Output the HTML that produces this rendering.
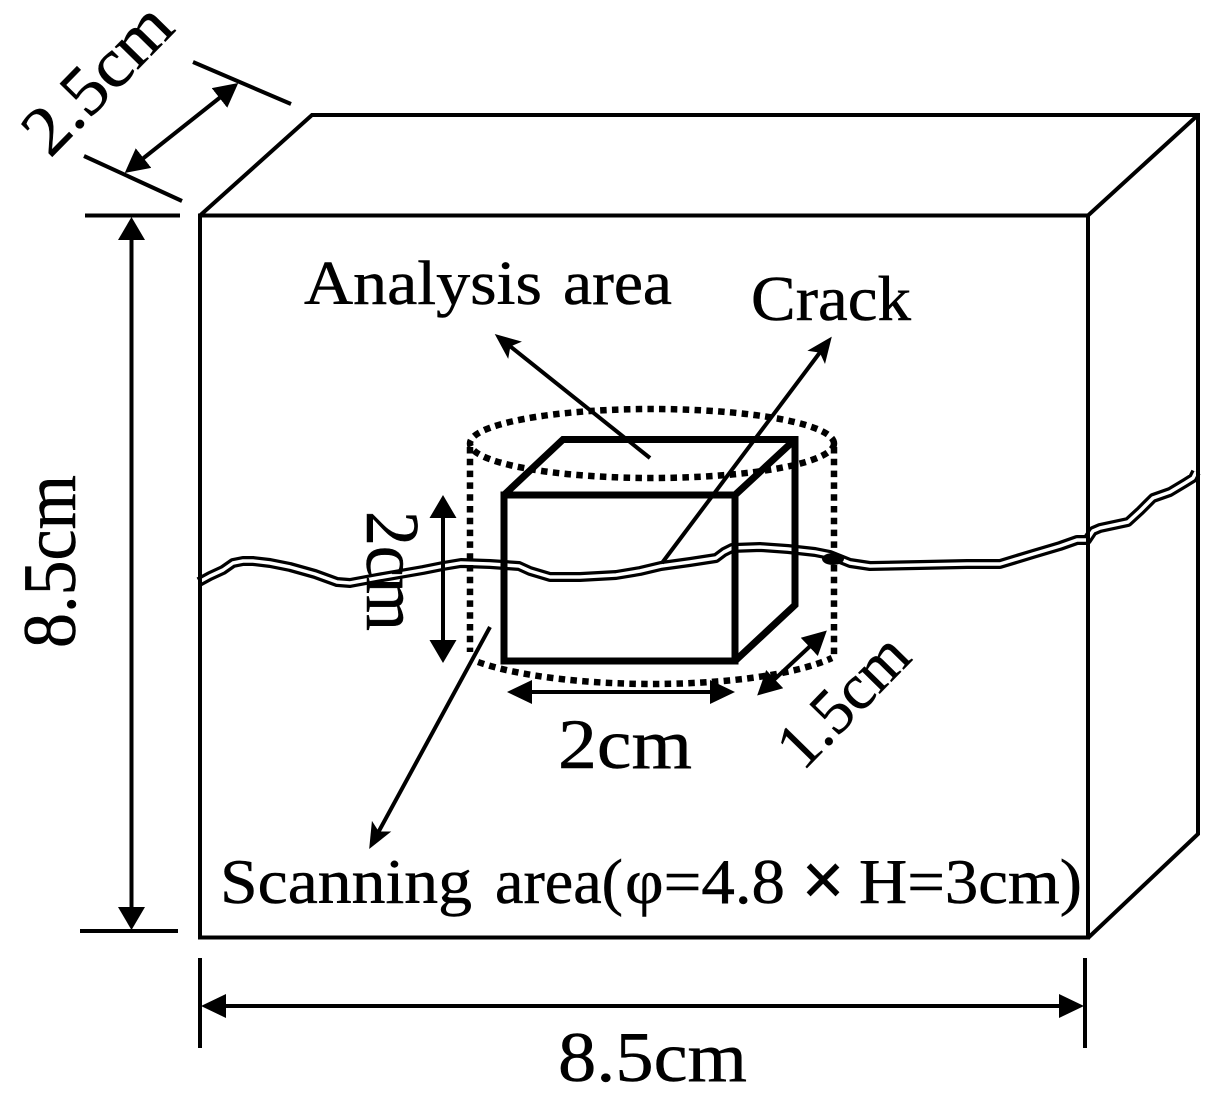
<!DOCTYPE html>
<html><head><meta charset="utf-8"><style>html,body{margin:0;padding:0;background:#fff}svg{display:block}text{font-family:"Liberation Serif",serif;fill:#000;stroke:#000;stroke-width:.5px}</style></head><body>
<svg width="1222" height="1102" viewBox="0 0 1222 1102" xmlns="http://www.w3.org/2000/svg">
<defs>
<marker id="v" markerUnits="userSpaceOnUse" markerWidth="30" markerHeight="30" refX="15" refY="15" orient="auto-start-reverse"><path d="M0 1.5L23 15L0 28.5Z" fill="#000"/></marker>
<marker id="h" markerUnits="userSpaceOnUse" markerWidth="30" markerHeight="30" refX="17" refY="15" orient="auto-start-reverse"><path d="M0 3L25 15L0 27Z" fill="#000"/></marker>
<marker id="d" markerUnits="userSpaceOnUse" markerWidth="30" markerHeight="30" refX="16" refY="15" orient="auto-start-reverse"><path d="M0 2.5L24 15L0 27.5Z" fill="#000"/></marker>
<marker id="b" markerUnits="userSpaceOnUse" markerWidth="30" markerHeight="26" refX="18" refY="13" orient="auto"><path d="M0 2L26 13L0 24L6 13Z" fill="#000"/></marker>
</defs>
<polyline points="199,582 210,576 223,570 233,563 243,561 253,561 270,563 290,567 315,574 337,582 350,583 377,578 400,574 423,570 443,566 461,563 490,564 519,566 530,571 550,577 580,577 616,575 640,571 661,566 690,562 716,558 724,552 732,548 760,547 788,549 815,552 830,555 850,563 870,566 920,565 967,564 1000,564 1033,554 1060,546 1077,540 1087,540 1093,531 1100,528 1128,522 1140,511 1153,498 1170,492 1185,483 1193,478 1196,472" fill="none" stroke="#000" stroke-width="10" stroke-linejoin="round"/>
<polyline points="199,582 210,576 223,570 233,563 243,561 253,561 270,563 290,567 315,574 337,582 350,583 377,578 400,574 423,570 443,566 461,563 490,564 519,566 530,571 550,577 580,577 616,575 640,571 661,566 690,562 716,558 724,552 732,548 760,547 788,549 815,552 830,555 850,563 870,566 920,565 967,564 1000,564 1033,554 1060,546 1077,540 1087,540 1093,531 1100,528 1128,522 1140,511 1153,498 1170,492 1185,483 1193,478 1196,472" fill="none" stroke="#fff" stroke-width="3.5" stroke-linejoin="round"/>
<ellipse cx="833" cy="559" rx="11" ry="6" fill="#000"/>
<g fill="none" stroke="#000" stroke-width="4">
<rect x="200" y="215.5" width="888" height="722"/>
<path d="M200 215.5L312 115H1198V834L1088 938M1088 215.5L1198 115"/>
<path d="M85 215.5H180M80 931H178M193 62L291 104M84 156L182 201M200 958V1048M1085 958V1048"/>
</g>
<g fill="none" stroke="#000" stroke-width="4">
<line x1="131.5" y1="225" x2="131.5" y2="922" marker-start="url(#v)" marker-end="url(#v)"/>
<line x1="131" y1="168" x2="232" y2="88" marker-start="url(#d)" marker-end="url(#d)"/>
<line x1="209" y1="1006" x2="1076" y2="1006" marker-start="url(#h)" marker-end="url(#h)"/>
<line x1="443" y1="503" x2="443" y2="655" marker-start="url(#v)" marker-end="url(#v)"/>
<line x1="515" y1="692" x2="727" y2="692" marker-start="url(#h)" marker-end="url(#h)"/>
<line x1="763" y1="690" x2="821" y2="636" marker-start="url(#d)" marker-end="url(#d)"/>
<line x1="650" y1="458" x2="501" y2="339" marker-end="url(#b)"/>
<line x1="662" y1="563" x2="827" y2="343" marker-end="url(#b)"/>
<line x1="490" y1="627" x2="373" y2="842" marker-end="url(#b)"/>
</g>
<g fill="none" stroke="#000" stroke-width="7">
<rect x="504" y="495" width="231" height="166"/>
<path d="M504 495L563 439.5H795V605L735 661M735 495L795 439.5"/>
</g>
<g fill="none" stroke="#000" stroke-width="6.5" stroke-dasharray="6.5 5.3">
<ellipse cx="652" cy="443.5" rx="182" ry="34.5"/>
<path d="M470 447V652"/>
<path d="M834 447V655"/>
<path d="M478 662C520 677 590 684 652 684C715 684 790 677 832 658"/>
</g>
<text x="304" y="304" font-size="62" textLength="238" lengthAdjust="spacingAndGlyphs">Analysis</text>
<text x="563" y="304" font-size="62" textLength="109" lengthAdjust="spacingAndGlyphs">area</text>
<text x="751" y="320" font-size="63" textLength="160" lengthAdjust="spacingAndGlyphs">Crack</text>
<text x="220" y="903" font-size="63" textLength="252" lengthAdjust="spacingAndGlyphs">Scanning</text>
<text x="495" y="903" font-size="63" textLength="128" lengthAdjust="spacingAndGlyphs">area(</text>
<text x="625" y="903" font-size="63" textLength="160" lengthAdjust="spacingAndGlyphs">φ=4.8</text>
<text x="802" y="904" font-size="72" style="font-family:'Liberation Sans',sans-serif">×</text>
<text x="859" y="903" font-size="63" textLength="223" lengthAdjust="spacingAndGlyphs">H=3cm)</text>
<text x="558" y="768" font-size="71" textLength="134" lengthAdjust="spacingAndGlyphs">2cm</text>
<text x="558" y="1081" font-size="71" textLength="189" lengthAdjust="spacingAndGlyphs">8.5cm</text>
<text transform="translate(75 648) rotate(-90)" font-size="75" textLength="173" lengthAdjust="spacingAndGlyphs">8.5cm</text>
<text transform="translate(367 511) rotate(90)" font-size="76" textLength="120" lengthAdjust="spacingAndGlyphs">2cm</text>
<text transform="translate(50 159) rotate(-45.5)" font-size="70" textLength="181" lengthAdjust="spacingAndGlyphs">2.5cm</text>
<text transform="translate(803 772) rotate(-45.6)" font-size="65" textLength="158" lengthAdjust="spacingAndGlyphs">1.5cm</text>
</svg></body></html>
